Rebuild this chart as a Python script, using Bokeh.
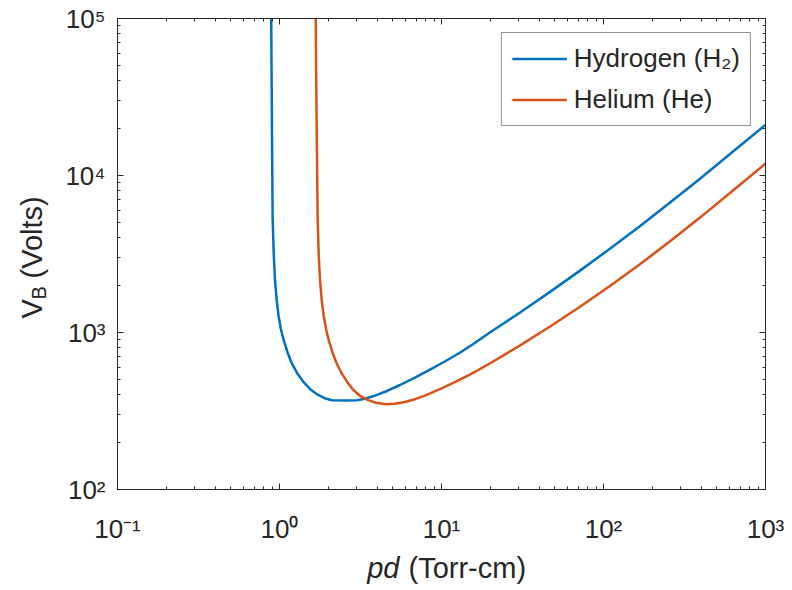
import math
from bokeh.plotting import figure
from bokeh.layouts import row, column
from bokeh.models import LogAxis, FixedTicker, Label, Legend, LegendItem, Range1d
from bokeh.embed import file_html
from bokeh.resources import INLINE

# ---- data (pd in Torr-cm, V_B in volts) ----
h2_pd = [0.8890, 0.8940, 0.9004, 0.9068, 0.9210, 0.9381, 0.9611, 0.9859, 1.0172, 1.0614,
         1.1201, 1.1889, 1.2855, 1.4092, 1.5459, 1.7196, 1.8987, 2.1115, 2.52, 3.011,
         3.373, 3.887, 4.610, 5.542, 6.858, 8.482, 10.49, 12.98, 16.06, 19.87,
         30.41, 46.55, 71.25, 109.0, 166.9, 255.4, 390.9, 598.4, 1000]
h2_vb = [100000, 42270, 14490, 5425, 3200, 2153, 1606, 1289, 1065, 893.2,
         749, 637.5, 550.6, 482.5, 435.4, 401.6, 381.5, 370.6, 369, 370.6,
         378.3, 396.0, 424.1, 463.0, 516.1, 579.7, 653.6, 742.6, 857.5, 1000,
         1337, 1808, 2469, 3403, 4740, 6673, 9472, 13610, 21010]

he_pd = [1.6737, 1.6832, 1.7024, 1.7196, 1.7466, 1.7791, 1.8225, 1.8724, 1.9345, 2.0127,
         2.1210, 2.2511, 2.4167, 2.6242, 2.8660, 3.1645, 3.5200, 3.9430, 4.5447, 5.1645,
         5.9514, 6.858, 7.903, 9.775, 12.09, 14.96, 19.87, 30.41, 46.55, 71.25,
         109.0, 166.9, 255.4, 390.9, 598.4, 1000]
he_vb = [100000, 46170, 14490, 5346, 3062, 2153, 1606, 1289, 1065, 893.2,
         749, 637.5, 550.6, 482.5, 429.1, 392.9, 370.6, 357.2, 349.4, 352.0,
         360.8, 376.0, 396.0, 435.4, 482.5, 538.5, 634.6, 825.3, 1087, 1453,
         1972, 2711, 3782, 5354, 7683, 11920]

series_names = ["Hydrogen (H\u2082)", "Helium (He)"]
series_colors = ["#0072BD", "#D95319"]

x_ticks = [0.1, 1, 10, 100, 1000]
x_tick_labels = ["10\u207b\u00b9", "10\u2070", "10\u00b9", "10\u00b2", "10\u00b3"]
y_ticks = [100, 1000, 10000, 100000]
y_tick_labels = ["10\u00b2", "10\u00b3", "10\u2074", "10\u2075"]

x_minor = [m * 10.0 ** e for e in range(-1, 3) for m in range(2, 10)]
y_minor = [m * 10.0 ** e for e in range(2, 5) for m in range(2, 10)]

FONT = "Liberation Sans"
AX = "#262626"
TICK_FS = "26px"
LABEL_FS = "29px"
LEGEND_FS = "26px"

# ---------------- main plot ----------------
p = figure(frame_width=648, frame_height=471,
           x_axis_type="log", y_axis_type="log",
           x_range=Range1d(0.1, 1000), y_range=Range1d(100, 1e5),
           min_border_left=67, min_border_right=27,
           min_border_top=18, min_border_bottom=61,
           output_backend="svg", toolbar_location=None)
p.background_fill_color = "white"
p.border_fill_color = "white"
p.outline_line_color = AX
p.outline_line_width = 1
p.xgrid.visible = False
p.ygrid.visible = False


def style_axis(ax, ticks, minor, labels):
    ax.ticker = FixedTicker(ticks=ticks, minor_ticks=minor)
    ax.axis_line_color = AX
    ax.axis_line_width = 1
    ax.major_tick_line_color = AX
    ax.minor_tick_line_color = AX
    ax.major_tick_in = 6
    ax.major_tick_out = 0
    ax.minor_tick_in = 3
    ax.minor_tick_out = 0
    if labels is None:
        ax.major_label_text_font_size = "0px"
        ax.major_label_standoff = 0
        ax.major_label_overrides = {t: "" for t in ticks}
    else:
        ax.major_label_overrides = {t: l for t, l in zip(ticks, labels)}
        ax.major_label_text_font = FONT
        ax.major_label_text_font_size = TICK_FS
        ax.major_label_text_color = AX


style_axis(p.xaxis[0], x_ticks, x_minor, x_tick_labels)
p.xaxis[0].major_label_standoff = 24
style_axis(p.yaxis[0], y_ticks, y_minor, y_tick_labels)
p.yaxis[0].major_label_standoff = 12

top = LogAxis()
style_axis(top, x_ticks, x_minor, None)
p.add_layout(top, "above")
right = LogAxis()
style_axis(right, y_ticks, y_minor, None)
p.add_layout(right, "right")

r1 = p.line(h2_pd, h2_vb, line_color=series_colors[0], line_width=2.5)
r2 = p.line(he_pd, he_vb, line_color=series_colors[1], line_width=2.5)

legend = Legend(items=[LegendItem(label=series_names[0], renderers=[r1]),
                       LegendItem(label=series_names[1], renderers=[r2])],
                location="top_right", margin=14, padding=10, spacing=10,
                glyph_width=55, glyph_height=29, label_height=29,
                label_standoff=7,
                label_text_font=FONT, label_text_font_size=LEGEND_FS,
                label_text_color=AX,
                border_line_color=AX, border_line_width=1,
                background_fill_color="white", background_fill_alpha=1)
p.add_layout(legend)


def text_panel(w, h):
    f = figure(width=w, height=h, x_range=Range1d(0, w), y_range=Range1d(0, h),
               min_border=0, min_border_left=0, min_border_right=0,
               min_border_top=0, min_border_bottom=0,
               x_axis_location=None, y_axis_location=None,
               output_backend="svg", toolbar_location=None)
    f.outline_line_color = None
    f.xgrid.visible = False
    f.ygrid.visible = False
    f.background_fill_color = "white"
    f.border_fill_color = "white"
    return f


# ---------------- x-axis title panel ----------------
xfig = text_panel(742, 40)
xfig.add_layout(Label(x=282, y=23, x_units="screen", y_units="screen", text="pd",
                      text_font=FONT, text_font_style="italic",
                      text_font_size=LABEL_FS, text_color=AX,
                      text_align="right", text_baseline="alphabetic"))
xfig.add_layout(Label(x=291, y=23, x_units="screen", y_units="screen", text="(Torr-cm)",
                      text_font=FONT, text_font_size=LABEL_FS, text_color=AX,
                      text_align="left", text_baseline="alphabetic"))

# ---------------- y-axis title panel ----------------
yfig = text_panel(50, 590)
ang = math.pi / 2
yfig.add_layout(Label(x=31, y=272, x_units="screen", y_units="screen", text="V",
                      angle=ang, text_font=FONT, text_font_size=LABEL_FS,
                      text_color=AX, text_align="left", text_baseline="alphabetic"))
yfig.add_layout(Label(x=38, y=291, x_units="screen", y_units="screen", text="B",
                      angle=ang, text_font=FONT, text_font_size="20px",
                      text_color=AX, text_align="left", text_baseline="alphabetic"))
yfig.add_layout(Label(x=31, y=312, x_units="screen", y_units="screen", text="(Volts)",
                      angle=ang, text_font=FONT, text_font_size=LABEL_FS,
                      text_color=AX, text_align="left", text_baseline="alphabetic"))

layout = row(yfig, column(p, xfig, spacing=0), spacing=0)
open("out.html", "w").write(file_html(layout, INLINE))
